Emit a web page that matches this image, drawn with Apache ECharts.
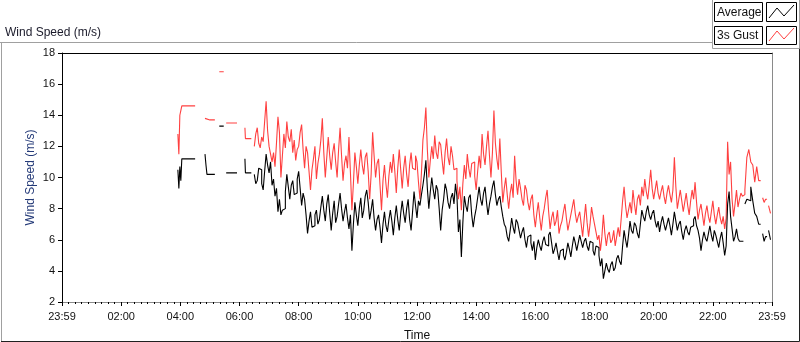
<!DOCTYPE html>
<html><head><meta charset="utf-8">
<script src="https://cdn.jsdelivr.net/npm/echarts@6/dist/echarts.min.js"></script>
<style>html,body{margin:0;padding:0;background:#fff}#c{width:800px;height:342px}</style>
</head><body><div id="c"></div>
<script>
// ---- tick labels ----
const xTickLabels = ['23:59','02:00','04:00','06:00','08:00','10:00','12:00','14:00','16:00','18:00','20:00','22:00','23:59'];
const seriesNames = ['Average','3s Gust'];

// ---- early fragments (minutes after midnight) ----
const preTimes = [235,237,239,241,243,251,270,290,292,294,300,310,319,322,328,333,337,355,371,372,377,384];
const preAvg   = [10.5,9.3,10.7,9.8,11.2,11.2,null,11.5,10.8,10.2,10.2,null,13.3,13.3,null,10.3,10.3,null,11.2,10.3,10.3,null];
const preGust  = [12.8,11.5,14.0,14.3,14.6,14.6,null,13.8,13.8,13.7,13.7,null,16.8,16.8,null,13.5,13.5,null,13.2,12.5,12.5,null];

// ---- continuous record: starts 06:30, one sample every 3 minutes ----
const mainStart = 390, mainStep = 3;
const avgMain = [
10.2,9.6,9.8,10.6,10.5,9.6,9.2,10.4,11.5,10.8,10.3,11.0,9.5,9.9,8.8,9.3,7.8,8.6,7.6,7.9,
8.0,9.1,10.2,9.4,8.6,9.5,9.8,8.9,9.0,9.9,10.4,9.3,8.2,9.0,8.6,7.6,6.4,7.2,7.8,6.8,
6.9,7.6,7.9,7.0,7.3,8.1,8.8,7.9,7.2,8.3,8.9,7.7,6.6,7.7,8.5,7.1,7.5,8.3,9.0,8.0,
7.2,7.8,8.3,7.4,6.7,7.6,5.3,7.0,8.4,7.6,6.9,8.0,8.7,7.4,7.9,8.8,9.2,8.4,7.3,7.9,
8.6,7.4,6.6,7.3,7.6,6.8,5.8,7.0,7.8,6.9,6.5,7.3,7.9,7.2,6.3,7.4,8.2,7.3,6.6,7.7,
8.5,7.7,7.1,8.0,8.6,7.3,6.6,7.8,9.1,8.2,7.4,8.5,8.2,8.9,9.5,10.2,11.1,9.3,8.0,9.1,
10.0,9.2,8.6,9.5,9.2,8.0,6.6,7.9,8.6,9.6,9.2,8.4,8.0,8.7,9.0,8.3,9.6,8.8,6.5,7.3,
4.9,7.1,8.8,8.2,7.8,8.7,8.9,7.6,6.8,7.5,8.0,8.7,9.4,8.6,8.2,9.0,9.4,8.4,7.6,8.3,
8.8,9.4,9.8,8.9,8.2,8.6,8.8,8.1,7.5,7.0,6.8,6.2,5.9,6.6,7.4,6.8,6.4,7.3,7.1,6.6,
6.1,6.5,6.8,6.0,5.5,6.2,6.3,5.8,5.3,5.9,4.7,5.5,6.0,5.6,5.3,5.9,6.2,5.7,5.6,6.3,
6.5,5.8,5.1,5.4,5.8,5.2,4.7,5.3,5.4,5.0,4.7,5.2,5.8,5.4,4.9,5.6,6.2,5.8,5.3,5.8,
6.3,5.9,5.5,5.9,6.1,5.6,5.3,5.9,5.8,5.3,5.0,5.6,5.5,5.0,4.3,4.8,3.5,4.0,4.5,4.1,
3.9,4.4,4.6,4.0,4.2,4.8,5.0,4.6,4.4,5.6,6.6,6.0,5.5,6.3,7.2,6.6,6.4,7.1,6.9,6.4,
6.1,7.0,7.9,7.5,7.2,7.8,8.2,7.6,7.3,7.7,7.9,7.2,6.8,7.2,6.5,7.1,7.5,7.0,6.6,7.0,
7.4,6.9,6.3,7.0,7.8,7.2,6.6,7.0,7.2,6.5,6.0,6.6,6.9,6.5,6.3,6.8,6.9,7.3,7.5,6.9,
6.6,6.1,5.3,6.0,6.5,6.1,5.9,6.4,6.9,6.3,5.9,6.6,6.3,5.9,5.5,6.1,6.5,5.8,5.0,5.6,
8.3,9.1,7.5,6.7,5.9,6.2,6.7,6.1,5.9,5.9,5.9];
const gustMain = [
12.0,12.8,13.2,12.2,11.9,12.6,12.3,13.6,14.9,13.0,12.0,11.5,11.0,11.6,10.7,12.2,13.9,12.9,10.0,11.4,
12.8,11.9,13.6,12.6,12.3,13.1,11.6,12.4,11.1,11.8,12.0,12.9,13.4,11.8,10.6,12.0,11.6,10.4,9.2,10.5,
11.2,12.0,9.9,10.9,11.5,12.4,13.8,11.6,10.0,11.3,12.6,11.4,10.5,11.6,12.2,11.0,10.0,11.8,13.2,11.4,
9.8,10.9,11.4,10.6,12.6,10.3,7.9,9.6,11.6,10.7,9.6,10.8,11.8,10.8,10.2,11.3,11.6,10.4,8.6,10.2,
12.9,11.4,10.0,10.9,11.2,9.5,7.9,9.8,10.8,9.6,8.7,10.1,11.0,10.3,11.5,10.4,9.0,10.6,11.8,10.5,
9.3,10.6,11.4,10.2,9.4,10.8,11.6,10.6,10.5,11.4,11.0,9.7,8.6,10.3,12.4,13.2,14.5,11.8,10.0,11.1,
12.0,11.2,12.7,11.6,11.2,12.3,12.1,11.1,10.2,11.6,12.5,11.3,10.8,12.0,11.4,10.5,10.6,9.8,8.6,9.4,
7.9,9.6,10.8,9.9,11.5,10.6,10.0,10.9,11.0,10.1,9.2,10.4,11.4,10.6,12.8,11.5,10.8,12.0,13.0,11.4,
10.0,11.6,14.3,12.2,11.2,10.5,12.5,10.3,8.4,9.3,10.0,8.9,8.0,9.0,9.6,8.7,11.4,9.8,8.9,9.9,
9.3,8.6,8.2,9.5,9.2,8.4,7.9,8.6,8.9,7.6,6.8,7.7,8.4,7.4,6.6,7.5,8.0,8.7,9.2,7.8,
6.7,7.4,7.8,6.9,7.2,7.9,6.4,6.9,7.2,7.8,8.3,7.4,6.6,7.1,7.6,8.1,8.6,7.7,7.1,7.5,
7.8,7.0,6.2,7.3,8.3,7.1,6.2,7.0,8.1,7.5,7.0,6.5,6.0,6.3,5.3,6.2,7.6,6.4,5.6,6.3,
6.5,5.8,6.0,6.6,5.6,6.2,6.8,6.2,7.3,8.5,9.4,8.2,7.4,7.9,8.4,7.7,9.2,8.3,7.6,8.6,
8.9,8.2,9.4,8.8,9.9,9.1,8.6,9.5,10.5,9.3,8.6,9.2,9.8,9.0,8.6,9.1,9.5,8.8,8.3,9.0,
9.5,8.9,8.4,9.2,11.3,9.4,8.0,8.6,9.2,8.5,7.8,8.4,9.0,8.2,7.6,8.5,9.2,8.6,9.7,8.4,
7.3,7.9,8.3,7.6,6.9,7.7,8.2,7.5,7.1,7.8,8.5,7.6,7.0,7.6,8.1,7.4,7.0,7.5,6.7,7.4,
12.3,10.2,11.0,8.6,7.5,8.3,9.2,8.1,8.6,9.0,8.8];

// ---- late fragments ----
const tailTimes = [1382,1385,1389,1393,1397,1401,1405,1409,1413,1417,1421,1424,1427,1430,1433,1437];
const tailAvg   = [null,8.3,8.6,8.5,9.4,8.5,7.7,7.5,7.0,null,6.4,5.9,6.2,null,6.6,6.0];
const tailGust  = [8.9,9.2,11.3,11.8,11.0,10.8,9.7,10.7,9.8,null,8.7,8.4,8.6,null,8.2,7.7];

function toPairs(times, vals){ return times.map((t,i)=>[t, vals[i]===null ? '-' : vals[i]]); }
const mainTimes = avgMain.map((_,i)=>mainStart + mainStep*i);
const avgData  = toPairs(preTimes,preAvg).concat(toPairs(mainTimes,avgMain), toPairs(tailTimes,tailAvg));
const gustData = toPairs(preTimes,preGust).concat(toPairs(mainTimes,gustMain), toPairs(tailTimes,tailGust));

const FONT = 'Liberation Sans';
const chart = echarts.init(document.getElementById('c'), null, {renderer:'canvas'});
chart.setOption({
  animation:false,
  backgroundColor:'#ffffff',
  textStyle:{fontFamily:FONT},
  title:{text:'Wind Speed (m/s)', left:0, top:22, textStyle:{fontSize:12, fontWeight:'normal', color:'#1a1a2a', fontFamily:FONT}},
  grid:{left:62, right:28, top:53, bottom:40, show:false, containLabel:false, outerBoundsMode:'none'},
  xAxis:[{
    type:'value', min:0, max:1440, interval:120, position:'bottom',
    name:'Time', nameLocation:'middle', nameGap:28, nameMoveOverlap:false,
    nameTextStyle:{color:'#111', fontSize:12, fontFamily:FONT},
    axisLine:{show:true, onZero:false, lineStyle:{color:'#8a8a8a', width:1}},
    axisTick:{show:true, length:4, lineStyle:{color:'#000'}},
    minorTick:{show:true, splitNumber:9, length:2, lineStyle:{color:'#000'}},
    axisLabel:{color:'#111', fontSize:11, margin:9, fontFamily:FONT,
      formatter:(v)=>xTickLabels[Math.round(v/120)]},
    splitLine:{show:false}
  },{
    type:'value', min:0, max:1440, position:'top',
    axisLine:{show:true, onZero:false, lineStyle:{color:'#000', width:1}},
    axisTick:{show:false}, axisLabel:{show:false}, splitLine:{show:false}
  }],
  yAxis:[{
    type:'value', min:2, max:18, interval:2,
    name:'Wind Speed (m/s)', nameLocation:'middle', nameGap:25, nameRotate:90, nameMoveOverlap:false,
    nameTextStyle:{color:'#243a78', fontSize:12, fontFamily:FONT},
    axisLine:{show:true, onZero:false, lineStyle:{color:'#000', width:1}},
    axisTick:{show:true, length:4, lineStyle:{color:'#000'}},
    axisLabel:{color:'#111', fontSize:11, margin:7, fontFamily:FONT},
    splitLine:{show:false}
  },{
    type:'value', min:2, max:18, position:'right',
    axisLine:{show:true, onZero:false, lineStyle:{color:'#8a8a8a', width:1}},
    axisTick:{show:false}, axisLabel:{show:false}, splitLine:{show:false}
  }],
  series:[
    {name:seriesNames[1], type:'line', step:'end', data:gustData, showSymbol:false, symbol:'none',
     lineStyle:{color:'#ff4040', width:1.1}, connectNulls:false},
    {name:seriesNames[0], type:'line', step:'end', data:avgData, showSymbol:false, symbol:'none',
     lineStyle:{color:'#000000', width:1.1}, connectNulls:false}
  ],
  graphic:[
    {type:'polyline', shape:{points:[[0,42.5],[712.5,42.5]]}, style:{stroke:'#a0a0a0', lineWidth:1, fill:null}},
    {type:'polyline', shape:{points:[[1.5,42.5],[1.5,341]]}, style:{stroke:'#a0a0a0', lineWidth:1, fill:null}},
    {type:'polyline', shape:{points:[[1,341.5],[799.5,341.5],[799.5,48]]}, style:{stroke:'#202020', lineWidth:1, fill:null}},
    {type:'rect', shape:{x:712.5, y:-1, width:87, height:49.5}, style:{stroke:'#a0a0a0', fill:'#ffffff', lineWidth:1}},
    {type:'rect', shape:{x:714.5, y:2.5, width:48, height:19}, style:{stroke:'#000', fill:'#fff', lineWidth:1}},
    {type:'text', x:717, y:12.5, style:{text:seriesNames[0], fontSize:12, fontFamily:FONT, fill:'#111', verticalAlign:'middle'}},
    {type:'rect', shape:{x:766.5, y:2.5, width:30, height:19}, style:{stroke:'#000', fill:'#fff', lineWidth:1}},
    {type:'polyline', shape:{points:[[769,18],[777,8],[784,16],[794,5]]}, style:{stroke:'#000', lineWidth:1, fill:null}},
    {type:'rect', shape:{x:714.5, y:26.5, width:48, height:18}, style:{stroke:'#000', fill:'#fff', lineWidth:1}},
    {type:'text', x:717, y:36, style:{text:seriesNames[1], fontSize:12, fontFamily:FONT, fill:'#111', verticalAlign:'middle'}},
    {type:'rect', shape:{x:766.5, y:26.5, width:30, height:18}, style:{stroke:'#000', fill:'#fff', lineWidth:1}},
    {type:'polyline', shape:{points:[[769,41],[777,31],[784,39],[794,28]]}, style:{stroke:'#ff4040', lineWidth:1, fill:null}}
  ]
});
</script></body></html>
